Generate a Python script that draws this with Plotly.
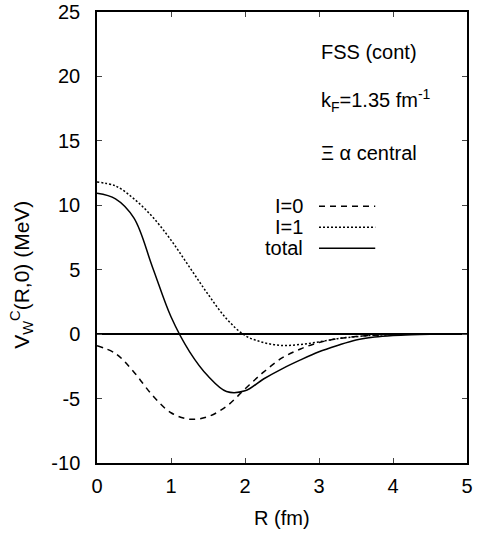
import plotly.graph_objs as go

# R (fm) sample points and potential values (MeV)
r_fm = [0, 0.25, 0.5, 0.75, 1.0, 1.25, 1.5, 1.75, 2.0, 2.25, 2.5,
        2.75, 3.0, 3.25, 3.5, 3.75, 4.0, 4.25, 4.5, 4.75, 5.0]
v_i0 = [-0.9, -1.5, -2.95, -4.75, -6.1, -6.6, -6.4, -5.6, -4.25, -2.95, -1.85,
        -1.15, -0.65, -0.36, -0.18, -0.08, -0.03, -0.01, 0, 0, 0]
v_i1 = [11.8, 11.5, 10.5, 9.1, 7.3, 5.2, 3.1, 1.2, -0.1, -0.65, -0.88,
        -0.8, -0.6, -0.35, -0.2, -0.08, -0.03, -0.01, 0, 0, 0]
v_total = [10.93, 10.5, 9.0, 5.2, 1.35, -1.35, -3.25, -4.45, -4.4, -3.48, -2.69,
           -2.0, -1.37, -0.88, -0.45, -0.22, -0.1, -0.04, -0.01, 0, 0]

series_names = ['I=0', 'I=1', 'total']
series_dash = ['6px,5px', '2px,2px', 'solid']

y_tickvals = [-10, -5, 0, 5, 10, 15, 20, 25]
y_ticktext = ['-10', '-5', '0', '5', '10', '15', '20', '25']

FONT = 'Liberation Sans, Arial, sans-serif'

fig = go.Figure()

for name, vals, dash in zip(series_names, [v_i0, v_i1, v_total], series_dash):
    fig.add_trace(go.Scatter(
        x=r_fm, y=vals, mode='lines', name=name,
        line=dict(color='black', width=1.5, dash=dash, shape='spline'),
        showlegend=False
    ))

# manual gnuplot-style legend: text on the left, line sample on the right
legend_y = [9.93, 8.3, 6.67]
for name, dash, ly in zip(series_names, series_dash, legend_y):
    fig.add_annotation(x=2.81, y=ly, text=name, showarrow=False,
                       xanchor='right', yanchor='middle')
    fig.add_shape(type='line', x0=3.0, x1=3.76, y0=ly, y1=ly,
                  line=dict(color='black', width=1.5, dash=dash))

# text labels
fig.add_annotation(x=3.0, y=21.9, text='FSS (cont)', showarrow=False,
                   xanchor='left', yanchor='middle')
fig.add_annotation(x=3.0, y=18.15, text='k<sub>F</sub>=1.35 fm<sup>-1</sup>',
                   showarrow=False, xanchor='left', yanchor='middle')
fig.add_annotation(x=3.0, y=14.05, text='Ξ α central', showarrow=False,
                   xanchor='left', yanchor='middle')

# axis titles as annotations (positioned like the gnuplot original)
fig.add_annotation(xref='paper', yref='paper', x=0.499, y=-0.122,
                   text='R (fm)', showarrow=False,
                   xanchor='center', yanchor='middle')
fig.add_annotation(xref='paper', yref='paper', x=-0.203, y=0.417,
                   text='V<sub>W</sub><sup>C</sup>(R,0) (MeV)', textangle=-90,
                   font=dict(size=21),
                   showarrow=False, xanchor='center', yanchor='middle')

fig.update_layout(
    width=477, height=537,
    margin=dict(l=97, r=10, t=12, b=74),
    plot_bgcolor='white', paper_bgcolor='white',
    font=dict(family=FONT, size=20, color='black'),
    xaxis=dict(
        range=[0, 5], dtick=1, ticks='inside', ticklen=5,
        showline=True, linecolor='black', linewidth=1.5, mirror='ticks',
        showgrid=False, zeroline=False, ticklabelstandoff=4,
        automargin=False, ticklabeloverflow='allow'
    ),
    yaxis=dict(
        range=[-10, 25], tickvals=y_tickvals, ticktext=y_ticktext,
        ticks='inside', ticklen=5,
        showline=True, linecolor='black', linewidth=1.5, mirror='ticks',
        showgrid=False, zeroline=True, zerolinecolor='black', zerolinewidth=1.5,
        ticklabelstandoff=11, automargin=False, ticklabeloverflow='allow'
    ),
)

# drop the default page margin so the figure fills the window exactly
fig.write_html('out.html', config={'displayModeBar': False},
               post_script="document.body.style.margin='0';")
